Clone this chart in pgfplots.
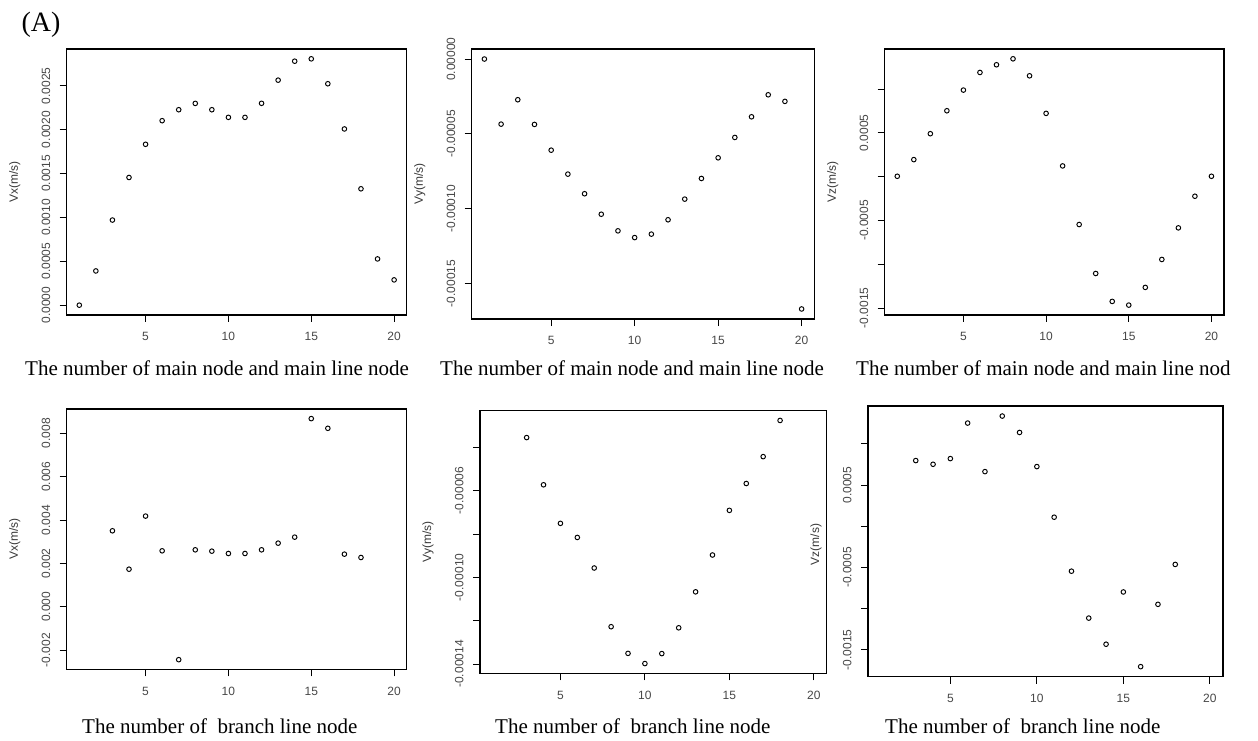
\documentclass[border=0pt]{standalone}
\usepackage{fontspec}
\setmainfont{Liberation Serif}
\newfontfamily\arial{Liberation Sans}
\usepackage{pgfplots}
\pgfplotsset{compat=1.18}
\pgfplotsset{
  rpanel/.style={
    scale only axis,
    anchor=south west,
    xmin=0.24, xmax=20.76,
    xtick={5,10,15,20}, xticklabels={5,10,15,20},
    axis line style={line width=1.1pt},
    every tick/.style={line width=0.9pt, black},
    major tick length=7pt,
    tick align=outside,
    xtick pos=bottom, ytick pos=left,
    scaled y ticks=false,
    tick label style={font=\arial\fontsize{12}{12}\selectfont, text=black!72},
    xticklabel style={yshift=-7pt},
    yticklabel style={xshift=-6pt, rotate=90, anchor=south},
    every axis y label/.style={at={(axis description cs:0,0.5)}, xshift=-52pt, rotate=90, anchor=center, font=\arial\fontsize{12}{12}\selectfont, text=black!78},
  },
  rpts/.style={only marks, mark=o, mark size=2.3pt, line width=0.95pt, black},
}
\begin{document}
\begin{tikzpicture}
\path[use as bounding box] (0pt,0pt) rectangle (1258pt,740pt);
\node[anchor=base west, font=\fontsize{28}{28}\selectfont] at (18pt,708pt) {(A)};
% Panel 1
\begin{axis}[rpanel, at={(66.7pt,425pt)}, width=340pt, height=266pt,
  ymin=-0.000112, ymax=0.002919,
  ytick={0,0.0005,0.001,0.0015,0.002,0.0025},
  yticklabels={0.0000,0.0005,0.0010,0.0015,0.0020,0.0025},
  ylabel={Vx(m/s)}]
\addplot[rpts] coordinates {(1,0) (2,0.00039) (3,0.00097) (4,0.001455) (5,0.001833) (6,0.002102) (7,0.002227) (8,0.002299) (9,0.002227) (10,0.00214) (11,0.00214) (12,0.0023) (13,0.002564) (14,0.00278) (15,0.002807) (16,0.002523) (17,0.002008) (18,0.001326) (19,0.000527) (20,0.000288)};
\end{axis}
% Panel 2
\begin{axis}[rpanel, at={(471.7pt,421pt)}, width=342.6pt, height=270pt,
  ymin=-0.0001737, ymax=0.0000067,
  ytick={-0.00015,-0.0001,-0.00005,0},
  yticklabels={-0.00015,-0.00010,-0.00005,0.00000},
  ylabel={Vy(m/s)}]
\addplot[rpts] coordinates {(1,0) (2,-0.0000435) (3,-0.0000272) (4,-0.0000437) (5,-0.0000609) (6,-0.0000769) (7,-0.00009) (8,-0.0001037) (9,-0.0001148) (10,-0.0001193) (11,-0.000117) (12,-0.0001074) (13,-0.0000936) (14,-0.0000798) (15,-0.000066) (16,-0.0000524) (17,-0.0000386) (18,-0.0000239) (19,-0.0000283) (20,-0.000167)};
\end{axis}
% Panel 3
\begin{axis}[rpanel, at={(884.7pt,425pt)}, width=339.3pt, height=266pt,
  ymin=-0.00158, ymax=0.001457,
  ytick={-0.0015,-0.001,-0.0005,0,0.0005,0.001},
  yticklabels={-0.0015,,-0.0005,,0.0005,},
  ylabel={Vz(m/s)}]
\addplot[rpts] coordinates {(1,0.0000038) (2,0.000194) (3,0.00049) (4,0.000752) (5,0.000988) (6,0.001189) (7,0.001277) (8,0.001345) (9,0.001151) (10,0.000722) (11,0.000122) (12,-0.000547) (13,-0.001106) (14,-0.001425) (15,-0.001467) (16,-0.001265) (17,-0.000946) (18,-0.000585) (19,-0.000224) (20,0.0000038)};
\end{axis}
% Panel 4
\begin{axis}[rpanel, at={(66.7pt,70.7pt)}, width=340pt, height=260.3pt,
  ymin=-0.002875, ymax=0.00912,
  ytick={-0.002,0,0.002,0.004,0.006,0.008},
  yticklabels={-0.002,0.000,0.002,0.004,0.006,0.008},
  ylabel={Vx(m/s)}]
\addplot[rpts] coordinates {(3,0.003508) (4,0.001738) (5,0.004185) (6,0.002585) (7,-0.002431) (8,0.002631) (9,0.002569) (10,0.002462) (11,0.002462) (12,0.002631) (13,0.002938) (14,0.003215) (15,0.008677) (16,0.00823) (17,0.002431) (18,0.002277)};
\end{axis}
% Panel 5
\begin{axis}[rpanel, at={(480pt,66.7pt)}, width=346.7pt, height=262.6pt,
  ymin=-0.0001443, ymax=-0.0000231,
  ytick={-0.00014,-0.00012,-0.0001,-0.00008,-0.00006,-0.00004},
  yticklabels={-0.00014,,-0.00010,,-0.00006,},
  ylabel={Vy(m/s)}]
\addplot[rpts] coordinates {(3,-0.0000355) (4,-0.0000573) (5,-0.0000751) (6,-0.0000816) (7,-0.0000957) (8,-0.0001228) (9,-0.0001351) (10,-0.0001398) (11,-0.0001352) (12,-0.0001233) (13,-0.0001067) (14,-0.0000897) (15,-0.0000691) (16,-0.0000567) (17,-0.0000443) (18,-0.0000276)};
\end{axis}
% Panel 6
\begin{axis}[rpanel, at={(868pt,63.3pt)}, width=355pt, height=270.7pt,
  ymin=-0.001825, ymax=0.001459,
  ytick={-0.0015,-0.001,-0.0005,0,0.0005,0.001},
  yticklabels={-0.0015,,-0.0005,,0.0005,},
  ylabel={Vz(m/s)}, every axis y label/.append style={xshift=-3pt}]
\addplot[rpts] coordinates {(3,0.000797) (4,0.000752) (5,0.000821) (6,0.001252) (7,0.000663) (8,0.001337) (9,0.001138) (10,0.000724) (11,0.00011) (12,-0.000545) (13,-0.001114) (14,-0.001431) (15,-0.000797) (16,-0.001703) (17,-0.000947) (18,-0.000463)};
\end{axis}
% x labels
\begin{scope}[every node/.style={anchor=base west, font=\fontsize{21}{21}\selectfont, inner sep=0pt}]
\node at (25pt,365pt) {The number of main node and main line node};
\node at (440pt,365pt) {The number of main node and main line node};
\node at (856pt,365pt) {The number of main node and main line nod};
\node at (82pt,7pt) {The number of\ \ branch line node};
\node at (495pt,7pt) {The number of\ \ branch line node};
\node at (885pt,7pt) {The number of\ \ branch line node};
\end{scope}
\end{tikzpicture}
\end{document}
